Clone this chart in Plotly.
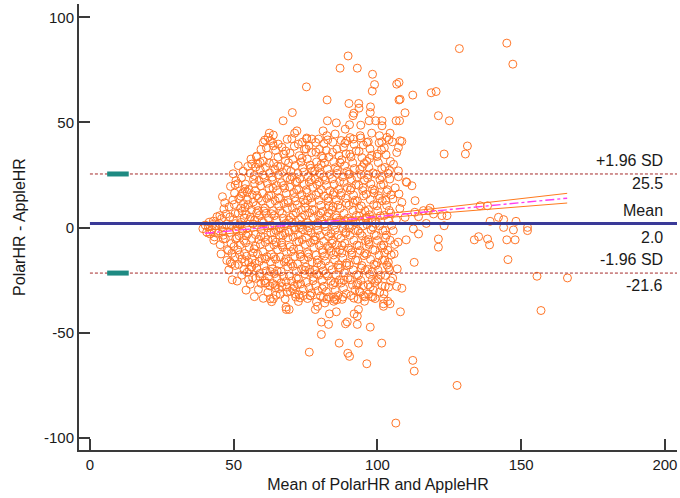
import plotly.graph_objects as go

# ---------------- statistics ----------------
mean_diff = 2.0
loa_upper = 25.5
loa_lower = -21.6
line_x = [0, 204.2]
loa_ci_x = [6.0, 13.5]

# regression of differences on means, with its confidence band
reg_x = [40, 80, 120, 166]
reg_y = [-2.7, 2.6, 7.9, 14.0]
reg_ci_up = [-1.2, 3.2, 9.1, 16.3]
reg_ci_lo = [-4.1, 2.0, 6.7, 11.7]

x_ticks = [0, 50, 100, 150, 200]
x_tick_text = ["0", "50", "100", "150", "200"]
y_ticks = [-100, -50, 0, 50, 100]
y_tick_text = ["-100", "-50", "0", "50", "100"]

# ---------------- observations (mean, difference) ----------------
band_40 = [(39.3,-0.5),(40.1,1.2),(40.6,-2.1),(41.2,0.4),(41.8,-3.0),(41.5,2.6)]
band_43 = [(42.4,-1.2),(42.9,3.1),(43.3,-4.4),(43.8,0.8),(44.2,5.2),(44.6,-2.6),(43.1,-6.0),(44.9,2.0),(42.7,1.5)]
band_46 = [(45.3,-8.1),(45.8,4.3),(46.2,-1.7),(46.6,8.9),(47.1,-5.2),(47.5,1.6),(45.6,-12.5),(46.9,11.8),
           (47.8,-10.4),(46.4,-3.6),(47.3,6.4),(45.9,0.2),(47.6,-15.6),(46.1,14.7),(45.2,5.7),(46.4,-5.4)]
band_49 = [(48.3,-20.1),(48.8,-16.3),(49.4,-12.2),(50.1,-9.0),(50.7,-5.4),(48.6,-2.3),(49.2,0.9),(49.9,3.8),
           (50.5,6.7),(48.4,9.9),(49.7,13.1),(50.3,16.4),(48.9,19.6),(50.8,22.3),(49.1,-7.6),(50.4,-14.0),
           (48.7,5.1),(50.9,-1.0),(49.5,-24.8),(50.2,11.0),(48.2,-10.9),(49.8,25.6),(50.6,1.9),(50.5,20.3),
           (49.3,-17.2),(50.5,-18.0)]
band_52 = [(51.2,-25.4),(52.8,-22.6),(53.6,-19.8),(51.7,-17.5),(52.9,-14.9),(53.8,-12.3),(51.4,-10.6),(52.3,-8.2),
           (53.5,-6.1),(51.9,-3.9),(53.1,-1.6),(51.3,0.7),(52.6,2.5),(53.7,4.6),(51.6,6.9),(52.4,9.3),
           (53.4,11.4),(51.8,13.8),(52.9,16.2),(53.9,18.5),(51.5,20.9),(52.7,23.6),(53.3,26.8),(52.1,-12.9),
           (53.0,7.8),(51.1,-4.8),(52.5,14.9),(53.8,-16.4),(52.2,1.3),(51.6,29.5),(53.4,16.8)]
band_55 = [(54.3,-29.7),(55.8,-26.9),(56.6,-23.8),(54.7,-21.2),(56.1,-18.7),(55.2,-16.3),(54.5,-13.6),(56.8,-11.9),
           (55.4,-9.4),(54.2,-7.2),(56.3,-5.1),(55.0,-2.8),(54.6,-0.4),(56.7,1.8),(55.6,3.9),(54.4,6.2),
           (56.2,8.4),(55.1,10.9),(54.8,13.3),(56.5,15.6),(55.3,18.1),(54.1,20.7),(56.9,23.0),(55.7,25.9),
           (54.9,29.1),(56.0,32.6),(55.5,-19.9),(56.4,-14.8),(54.4,-3.9),(55.9,5.0),(54.7,16.8),(56.8,12.2),
           (55.2,-24.6),(54.0,9.6),(56.3,30.2),(56.3,-18.8)]
band_58 = [(57.2,-32.8),(58.6,-29.4),(59.5,-26.5),(57.7,-24.1),(59.1,-21.8),(58.0,-19.2),(57.4,-17.0),(59.8,-14.6),
           (58.3,-12.5),(57.1,-10.1),(59.3,-7.9),(58.7,-5.6),(57.6,-3.3),(59.6,-1.0),(58.2,1.2),(57.3,3.6),
           (59.0,5.8),(58.5,8.1),(57.8,10.5),(59.7,12.7),(58.1,15.2),(57.5,17.6),(59.4,19.9),(58.8,22.4),
           (57.2,24.8),(59.2,27.5),(58.4,30.3),(57.9,33.6),(59.5,37.2),(58.9,-16.1),(57.6,-8.8),(59.9,3.0),
           (58.6,13.9),(57.3,20.9),(59.1,-23.3),(58.0,6.9),(59.4,-3.9),(57.7,28.8),(59.2,31.0)]
band_61 = [(60.3,-33.6),(61.9,-30.8),(62.6,-27.7),(60.8,-25.2),(62.2,-23.0),(61.3,-20.6),(60.5,-18.1),(62.8,-16.2),
           (61.6,-13.8),(60.2,-11.5),(62.4,-9.3),(61.0,-7.0),(60.7,-4.6),(62.9,-2.4),(61.8,-0.1),(60.4,2.3),
           (62.1,4.5),(61.2,6.8),(60.9,9.2),(62.7,11.4),(61.5,13.9),(60.1,16.3),(62.3,18.6),(61.7,21.1),
           (60.6,23.5),(62.5,26.0),(61.1,28.7),(60.3,31.6),(62.0,34.4),(61.4,37.9),(60.8,41.6),(62.8,-20.9),
           (61.9,-5.7),(60.5,7.9),(62.2,15.2),(61.0,-14.9),(60.2,25.0),(62.6,1.0),(61.3,-26.3),(62.4,30.6)]
band_64 = [(63.2,-35.2),(64.8,-32.1),(65.6,-29.0),(63.7,-26.6),(65.1,-24.3),(64.2,-21.9),(63.4,-19.6),(65.8,-17.4),
           (64.6,-15.0),(63.1,-12.7),(65.3,-10.5),(64.0,-8.2),(63.6,-5.8),(65.9,-3.6),(64.7,-1.3),(63.3,1.0),
           (65.0,3.4),(64.1,5.7),(63.8,8.0),(65.7,10.4),(64.4,12.8),(63.0,15.3),(65.2,17.7),(64.9,20.0),
           (63.5,22.6),(65.5,25.1),(64.3,27.8),(63.9,30.6),(65.4,33.5),(64.6,36.7),(63.6,40.2),(65.1,-20.5),
           (64.8,-6.9),(63.2,6.6),(65.6,14.1),(64.0,-13.9),(63.4,24.0),(65.9,-0.2),(64.5,-27.4),(63.7,18.8),
           (65.3,29.2),(64.1,-2.5)]
band_67 = [(67.9,-33.9),(68.6,-30.7),(66.8,-28.0),(68.2,-25.6),(67.3,-23.2),(66.5,-20.9),(68.8,-18.6),(67.6,-16.3),
           (66.2,-13.9),(68.4,-11.7),(67.1,-9.4),(66.7,-7.1),(68.9,-4.8),(67.8,-2.6),(66.4,-0.3),(68.1,2.0),
           (67.2,4.4),(66.9,6.7),(68.7,9.1),(67.5,11.5),(66.1,13.9),(68.3,16.3),(67.7,18.8),(66.6,21.3),
           (68.5,23.7),(67.0,26.3),(66.3,29.0),(68.0,31.8),(67.4,34.9),(66.8,38.2),(68.6,42.0),(66.5,-26.2),
           (68.2,-14.8),(67.1,-3.7),(66.0,7.9),(68.8,13.0),(67.3,20.0),(66.7,-8.3),(68.4,27.6),(67.6,0.9),
           (66.2,-31.6),(68.1,36.4)]
band_70 = [(71.6,-33.0),(69.7,-30.3),(71.1,-27.8),(70.2,-25.4),(69.4,-23.0),(71.8,-20.7),(70.6,-18.4),(69.1,-16.0),
           (71.3,-13.7),(70.0,-11.4),(69.6,-9.1),(71.9,-6.8),(70.7,-4.5),(69.3,-2.2),(71.0,0.1),(70.1,2.4),
           (69.8,4.8),(71.7,7.1),(70.4,9.5),(69.0,11.9),(71.2,14.3),(70.9,16.7),(69.5,19.2),(71.5,21.7),
           (70.3,24.2),(69.9,26.8),(71.4,29.5),(70.6,32.4),(69.6,35.4),(71.1,38.7),(70.2,42.3),(71.8,-24.1),
           (70.8,-10.2),(69.2,3.6),(71.5,12.6),(70.0,-17.2),(69.7,22.9),(71.3,-1.1),(70.5,-29.1),(69.1,30.8),
           (71.9,18.1),(70.7,6.0),(68.5,-28.3),(71.4,-31.5)]
band_73 = [(72.8,-31.9),(74.2,-29.3),(73.3,-26.8),(72.5,-24.4),(74.8,-22.0),(73.6,-19.7),(72.2,-17.3),(74.4,-15.0),
           (73.1,-12.7),(72.7,-10.3),(74.9,-8.0),(73.8,-5.7),(72.4,-3.4),(74.1,-1.0),(73.2,1.3),(72.9,3.7),
           (74.7,6.0),(73.5,8.4),(72.1,10.8),(74.3,13.2),(73.7,15.6),(72.6,18.1),(74.5,20.6),(73.0,23.1),
           (72.3,25.7),(74.0,28.4),(73.4,31.2),(72.8,34.2),(74.6,37.3),(73.9,40.6),(73.1,-33.4),(74.8,-20.3),
           (72.7,-6.6),(73.6,4.9),(74.9,11.7),(72.0,21.9),(73.3,-13.9),(74.4,26.5),(72.9,-0.1),(73.8,33.0),
           (72.2,-27.0),(74.2,-32.3),(72.5,39.7)]
band_76 = [(75.7,-33.7),(77.1,-31.1),(76.2,-28.5),(75.4,-26.0),(77.8,-23.6),(76.6,-21.2),(75.1,-18.8),(77.3,-16.4),
           (76.0,-14.1),(75.6,-11.8),(77.9,-9.4),(76.7,-7.1),(75.3,-4.8),(77.0,-2.4),(76.1,-0.1),(75.8,2.3),
           (77.7,4.6),(76.4,7.0),(75.0,9.4),(77.2,11.8),(76.9,14.2),(75.5,16.7),(77.5,19.2),(76.3,21.7),
           (75.9,24.3),(77.4,26.9),(76.6,29.7),(75.6,32.6),(77.1,35.7),(76.2,39.0),(75.4,42.6),(77.6,-25.2),
           (76.0,-12.5),(75.8,-1.6),(77.3,8.6),(75.3,18.0),(76.8,28.2),(77.9,-5.9),(75.7,13.1),(76.4,-19.9),
           (77.0,22.8),(75.2,37.4),(76.6,-32.3)]
band_79 = [(78.8,-35.3),(80.2,-32.6),(79.3,-30.0),(78.5,-27.5),(80.8,-25.0),(79.6,-22.6),(78.2,-20.2),(80.4,-17.8),
           (79.1,-15.4),(78.7,-13.1),(80.9,-10.7),(79.8,-8.4),(78.4,-6.0),(80.1,-3.7),(79.2,-1.3),(78.9,1.0),
           (80.7,3.4),(79.5,5.8),(78.1,8.2),(80.3,10.6),(79.7,13.0),(78.6,15.5),(80.5,18.0),(79.0,20.5),
           (78.3,23.1),(80.0,25.7),(79.4,28.4),(78.8,31.2),(80.6,34.1),(79.9,37.2),(78.5,40.5),(80.8,-29.0),
           (79.1,-16.9),(78.4,-4.3),(80.3,6.9),(79.6,16.6),(78.2,26.9),(80.9,-11.9),(79.8,21.8),(78.9,-22.0),
           (80.4,30.0),(79.2,2.2),(78.6,35.9)]
band_82 = [(81.7,-35.8),(83.1,-33.0),(82.2,-30.4),(81.4,-27.9),(83.8,-25.4),(82.6,-23.0),(81.1,-20.6),(83.3,-18.2),
           (82.0,-15.9),(81.6,-13.5),(83.9,-11.2),(82.7,-8.9),(81.3,-6.5),(83.0,-4.2),(82.1,-1.8),(81.8,0.5),
           (83.7,2.9),(82.4,5.3),(81.0,7.7),(83.2,10.1),(82.9,12.6),(81.5,15.0),(83.5,17.5),(82.3,20.0),
           (81.9,22.6),(83.4,25.2),(82.6,27.9),(81.6,30.7),(83.1,33.6),(82.2,36.7),(81.4,39.9),(82.0,-21.9),
           (83.3,-9.8),(81.7,1.7),(82.8,14.0),(81.3,24.1),(83.9,-2.9),(82.4,-33.9),(81.1,33.0),(83.0,7.0),
           (82.7,41.7)]
band_85 = [(84.8,-35.0),(86.2,-32.3),(85.3,-29.7),(84.5,-27.2),(86.8,-24.8),(85.6,-22.4),(84.2,-20.0),(86.4,-17.7),
           (85.1,-15.3),(84.7,-13.0),(86.9,-10.6),(85.8,-8.3),(84.4,-5.9),(86.1,-3.6),(85.2,-1.2),(84.9,1.1),
           (86.7,3.5),(85.5,5.9),(84.1,8.3),(86.3,10.7),(85.7,13.1),(84.6,15.6),(86.5,18.1),(85.0,20.6),
           (84.3,23.2),(86.0,25.8),(85.4,28.5),(84.8,31.3),(86.6,34.2),(85.9,37.3),(84.5,40.6),(85.1,-34.1),
           (86.4,-19.0),(84.2,-7.4),(85.8,4.6),(84.9,16.8),(86.1,27.3),(85.6,-11.5),(84.4,35.8),(86.9,21.9),
           (85.2,-26.1),(84.6,10.0)]
band_88 = [(87.7,-34.1),(89.1,-31.4),(88.2,-28.8),(87.4,-26.3),(89.8,-23.9),(88.6,-21.5),(87.1,-19.1),(89.3,-16.8),
           (88.0,-14.4),(87.6,-12.1),(89.9,-9.7),(88.7,-7.4),(87.3,-5.0),(89.0,-2.7),(88.1,-0.3),(87.8,2.0),
           (89.7,4.4),(88.4,6.8),(87.0,9.2),(89.2,11.6),(88.9,14.0),(87.5,16.5),(89.5,19.0),(88.3,21.5),
           (87.9,24.1),(89.4,26.7),(88.6,29.4),(87.6,32.2),(89.1,35.1),(88.2,38.2),(87.4,41.4),(88.0,-33.0),
           (89.3,-18.0),(87.7,-8.5),(88.8,3.3),(87.3,15.3),(89.9,25.3),(88.4,-24.9),(87.0,31.0),(89.0,-2.0),
           (88.7,40.1)]
band_91 = [(90.8,-32.3),(92.2,-29.7),(91.3,-27.2),(90.5,-24.8),(92.8,-22.4),(91.6,-20.1),(90.2,-17.7),(92.4,-15.4),
           (91.1,-13.0),(90.7,-10.7),(92.9,-8.3),(91.8,-6.0),(90.4,-3.6),(92.1,-1.3),(91.2,1.1),(90.9,3.4),
           (92.7,5.8),(91.5,8.2),(90.1,10.6),(92.3,13.0),(91.7,15.4),(90.6,17.9),(92.5,20.4),(91.0,22.9),
           (90.3,25.5),(92.0,28.1),(91.4,30.8),(90.8,33.6),(92.6,36.5),(91.9,39.6),(90.5,42.8),(92.8,-27.1),
           (91.1,-11.9),(90.2,-0.3),(91.6,11.8),(92.9,24.0),(90.4,34.9),(91.8,-33.5),(92.4,2.6),(90.9,18.9)]
band_94 = [(95.6,-32.9),(93.7,-30.2),(95.1,-27.6),(94.2,-25.1),(93.4,-22.7),(95.8,-20.3),(94.6,-18.0),(93.1,-15.6),
           (95.3,-13.3),(94.0,-10.9),(93.6,-8.6),(95.9,-6.2),(94.7,-3.9),(93.3,-1.5),(95.0,0.8),(94.1,3.2),
           (93.8,5.5),(95.7,7.9),(94.4,10.3),(93.0,12.7),(95.2,15.1),(94.9,17.6),(93.5,20.1),(95.5,22.6),
           (94.3,25.2),(93.9,27.8),(95.4,30.5),(94.6,33.3),(93.6,36.2),(95.1,39.3),(94.2,42.6),(93.2,-26.4),
           (95.6,-12.1),(94.0,-2.7),(93.7,9.1),(95.0,19.0),(94.8,28.9),(93.3,-34.0),(95.9,4.4),(94.4,-19.2),
           (94.0,-30.7)]
band_97 = [(97.9,-32.8),(98.6,-29.8),(96.8,-27.1),(98.2,-24.6),(97.3,-22.2),(96.5,-19.8),(98.8,-17.4),(97.6,-15.1),
           (96.2,-12.7),(98.4,-10.4),(97.1,-8.0),(96.7,-5.7),(98.9,-3.3),(97.8,-1.0),(96.4,1.4),(98.1,3.7),
           (97.2,6.1),(96.9,8.5),(98.7,10.9),(97.5,13.3),(96.1,15.8),(98.3,18.3),(97.7,20.8),(96.6,23.4),
           (98.5,26.0),(97.0,28.7),(96.3,31.5),(98.0,34.4),(97.4,37.5),(96.8,40.8),(98.2,-21.0),(97.0,-6.9),
           (96.2,4.9),(98.8,16.5),(97.5,-28.2),(96.7,25.0),(98.4,0.2),(97.3,32.9),(96.9,-31.5)]
band_100 = [(99.2,-33.7),(100.8,-30.6),(101.6,-27.7),(99.7,-25.1),(101.1,-22.6),(100.2,-20.2),(99.4,-17.9),(101.8,-15.5),
            (100.6,-13.2),(99.1,-10.8),(101.3,-8.5),(100.0,-6.1),(99.6,-3.8),(101.9,-1.4),(100.7,0.9),(99.3,3.3),
            (101.0,5.6),(100.1,8.0),(99.8,10.4),(101.7,12.8),(100.4,15.2),(99.0,17.7),(101.2,20.2),(100.9,22.8),
            (99.5,25.4),(101.5,28.1),(100.3,30.9),(99.9,33.8),(101.4,36.9),(100.6,40.3),(100.2,-24.4),(101.8,-9.6),
            (99.4,1.9),(100.8,13.9),(99.9,-16.6),(101.5,24.3),(100.0,35.0)]
band_103 = [(102.3,-31.5),(103.9,-28.3),(104.6,-25.3),(102.8,-22.7),(104.2,-20.2),(103.3,-17.8),(102.5,-15.4),(104.8,-13.0),
            (103.6,-10.7),(102.2,-8.3),(104.4,-6.0),(103.1,-3.6),(102.7,-1.3),(104.9,1.1),(103.8,3.4),(102.4,5.8),
            (104.1,8.2),(103.2,10.6),(102.9,13.0),(104.7,15.5),(103.5,18.0),(102.1,20.5),(104.3,23.1),(103.7,25.8),
            (102.6,28.6),(104.5,31.5),(103.0,34.6),(102.4,38.0),(104.0,41.8),(103.9,-19.0),(102.8,-4.9),(104.6,6.9),
            (103.2,17.1),(102.5,-12.0),(104.2,27.3),(103.8,-16.5)]
band_106 = [(105.3,-24.0),(106.9,-19.6),(105.8,-12.4),(107.2,-6.9),(105.5,-1.5),(106.6,3.8),(107.8,9.1),(105.4,13.6),
            (106.2,18.9),(107.3,24.2),(105.6,30.1),(106.7,35.7),(105.2,40.8),(106.0,-8.0),(107.5,16.0),(107.3,27.0),
            (107.9,41.3),(107.3,38.1)]

upper_tail = [(89.8,81.6),(87.0,75.8),(93.0,75.8),(98.3,72.9),(75.3,66.9),(99.0,68.0),(98.2,64.9),(106.7,68.2),
              (107.5,69.0),(82.5,60.7),(112.3,63.0),(118.7,64.1),(120.4,64.7),(107.5,60.7),(90.1,59.0),(93.5,59.0),
              (93.6,56.8),(97.6,57.4),(97.5,54.7),(70.4,54.7),(67.2,50.8),(109.6,54.6),(121.2,53.2),(125.0,50.8),
              (91.8,54.4),(91.5,53.2),(82.6,50.8),(85.7,49.8),(94.2,48.7),(90.3,48.9),(97.1,50.8),(99.4,50.8),
              (101.6,50.8),(101.6,48.4),(106.5,50.8),(107.7,50.8),(72.0,46.0),(71.2,44.9),(62.4,44.9),(63.8,44.0),
              (81.1,46.0),(104.4,44.9),(108.5,41.0),(128.5,85.1),(145.0,87.7),(147.1,77.7),(131.3,38.8),(130.6,35.0),
              (123.2,35.0),(107.9,61.0),(60.3,40.5),(62.7,41.3),(65.5,39.7),(75.4,42.1),(77.2,42.1),(79.5,42.1),
              (82.4,43.7),(85.3,44.5),(88.8,46.8),(89.3,41.3),(91.6,42.1),(94.0,43.7),(96.3,40.5),(98.0,44.9),
              (100.7,43.7),(101.5,40.8),(103.3,42.9),(62.0,42.9),(63.8,38.9),(58.0,34.0)]
lower_tail = [(106.4,-92.9),(112.3,-63.1),(112.8,-68.2),(96.3,-64.7),(76.3,-59.2),(89.7,-59.7),(90.3,-61.2),(86.7,-54.9),
              (93.4,-54.9),(101.5,-54.9),(80.5,-50.8),(108.0,-40.0),(97.5,-47.3),(88.9,-45.7),(89.5,-44.8),(93.0,-46.0),
              (80.5,-44.9),(83.0,-46.0),(68.3,-38.9),(69.3,-38.9),(83.3,-41.0),(85.7,-40.0),(91.9,-41.0),(93.0,-42.1),
              (93.4,-38.9),(78.4,-38.9),(79.2,-37.4),(102.1,-33.8),(102.1,-37.4),(103.6,-35.0),(106.7,-27.9),(108.5,-28.8),
              (102.7,-27.9),(99.0,-26.1),(95.5,-35.0),(98.4,-33.1),(72.5,-35.1),(63.8,-33.8),(62.7,-33.8),(64.5,-28.6),
              (60.9,-26.4),(127.7,-75.0),(68.2,-37.8),(102.1,-36.2),(104.4,-36.2),(81.2,-33.1),(84.7,-33.1),(85.9,-34.3),
              (95.1,-32.3),(76.6,-32.3)]
right_tail = [(110.0,21.8),(112.0,19.9),(113.1,12.8),(108.5,12.0),(118.3,9.3),(116.0,8.1),(119.5,6.5),(122.4,5.7),
              (124.2,5.7),(114.3,5.2),(109.6,4.9),(135.7,10.4),(138.3,10.4),(139.2,3.0),(142.1,4.9),(143.9,3.8),
              (148.2,3.0),(143.9,0.1),(147.3,-1.1),(152.2,0.1),(152.2,-1.4),(112.5,-0.6),(114.3,-3.0),(117.0,2.0),
              (123.2,0.9),(110.0,-5.8),(121.2,-5.4),(121.2,-9.3),(133.7,-5.8),(135.2,-4.3),(138.3,-5.4),(139.0,-8.2),
              (145.0,-5.8),(147.9,-5.8),(112.8,-16.5),(117.8,8.1),(145.4,-15.2),(155.5,-23.1),(166.1,-23.9),(156.9,-39.4),
              (110.2,21.5),(113.0,7.3)]

groups = [band_40, band_43, band_46, band_49, band_52, band_55, band_58, band_61, band_64, band_67,
          band_70, band_73, band_76, band_79, band_82, band_85, band_88, band_91, band_94, band_97,
          band_100, band_103, band_106, upper_tail, lower_tail, right_tail]
pts = [p for g in groups for p in g]
xs = [p[0] for p in pts]
ys = [p[1] for p in pts]

FONT = "Liberation Sans, Arial, sans-serif"
TXT = "#1a1a1a"
AX = "#3a3a3a"

fig = go.Figure()

fig.add_trace(go.Scatter(
    x=xs, y=ys, mode="markers",
    marker=dict(symbol="circle-open", size=8, color="rgb(255,118,40)", line=dict(width=1.0)),
    hoverinfo="skip"))

# limits of agreement
for v in (loa_upper, loa_lower):
    fig.add_trace(go.Scatter(x=line_x, y=[v, v], mode="lines",
                             line=dict(color="#a52a2a", width=1, dash="3px,2px"), hoverinfo="skip"))
    fig.add_trace(go.Scatter(x=loa_ci_x, y=[v, v], mode="lines",
                             line=dict(color="#1e8a82", width=5), hoverinfo="skip"))

# regression and its confidence band
fig.add_trace(go.Scatter(x=reg_x, y=reg_ci_up, mode="lines", line=dict(color="#ff7a1e", width=1), hoverinfo="skip"))
fig.add_trace(go.Scatter(x=reg_x, y=reg_ci_lo, mode="lines", line=dict(color="#ff7a1e", width=1), hoverinfo="skip"))
fig.add_trace(go.Scatter(x=reg_x, y=reg_y, mode="lines", line=dict(color="#ff3cf0", width=1.4, dash="dashdot"),
                         hoverinfo="skip"))

# mean difference
fig.add_trace(go.Scatter(x=line_x, y=[mean_diff, mean_diff], mode="lines",
                         line=dict(color="#3a3a98", width=3), hoverinfo="skip"))

labels = [("+1.96 SD", loa_upper, 13), (f"{loa_upper:.1f}", loa_upper, -10),
          ("Mean", mean_diff, 13), (f"{mean_diff:.1f}", mean_diff, -14),
          ("-1.96 SD", loa_lower, 14), (f"{loa_lower:.1f}", loa_lower, -12)]
for text, yv, sh in labels:
    fig.add_annotation(x=200, y=yv, text=text, showarrow=False, xanchor="right", yanchor="middle",
                       yshift=sh, xshift=0, font=dict(family=FONT, size=16, color=TXT))

axis_common = dict(showgrid=False, zeroline=False, showline=True, linecolor=AX, linewidth=2,
                   ticks="inside", ticklen=11, tickwidth=2, tickcolor=AX,
                   tickfont=dict(family=FONT, size=15, color=TXT), mirror=False)

fig.update_layout(
    width=680, height=498,
    margin=dict(l=79, r=3, t=4, b=48),
    paper_bgcolor="white", plot_bgcolor="white",
    showlegend=False,
    xaxis=dict(range=[-3.8, 204.2], tickvals=x_ticks, ticktext=x_tick_text,
               title=dict(text="Mean of PolarHR and AppleHR", font=dict(family=FONT, size=16, color=TXT), standoff=7),
               **axis_common),
    yaxis=dict(range=[-105.7, 106.3], tickvals=y_ticks, ticktext=y_tick_text,
               title=dict(text="PolarHR - AppleHR", font=dict(family=FONT, size=16, color=TXT), standoff=14),
               **axis_common),
)

fig.write_html("out.html")
